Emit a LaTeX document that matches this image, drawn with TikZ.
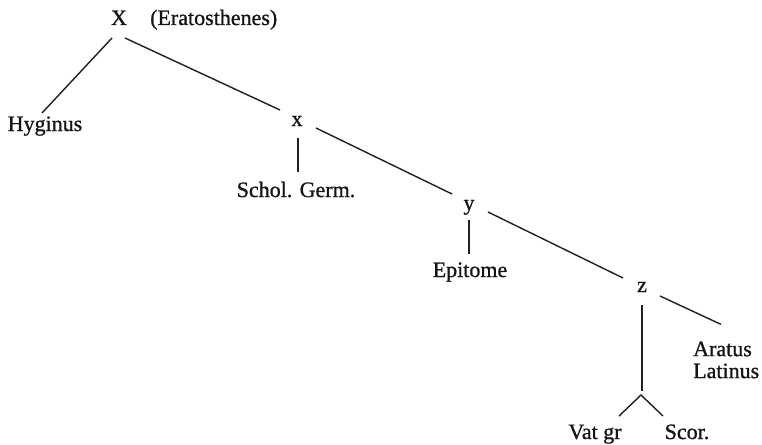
\documentclass[tikz,border=0pt]{standalone}
\usepackage{fontspec}
\setmainfont[FakeBold=0.9]{Liberation Serif}
\begin{document}
\begin{tikzpicture}[x=1pt,y=-1pt,
  lbl/.style={inner sep=0pt, anchor=base, text=black!92, font=\fontsize{22}{22}\selectfont},
  edge/.style={line width=1.4pt, black!88}]
\useasboundingbox (0,0) rectangle (762,444);
% nodes
\node[lbl] (X) at (119,25) {X};
\node[lbl, anchor=base west] (Era) at (150,25) {(Eratosthenes)};
\node[lbl] (Hyg) at (45,131) {Hyginus};
\node[lbl] (x) at (297,126) {x};
\node[lbl] (SG) at (296,197) {Schol. Germ.};
\node[lbl] (y) at (469,210) {y};
\node[lbl] (Ep) at (470,277) {Epitome};
\node[lbl] (z) at (642,292) {z};
\node[lbl, anchor=north west, align=left] (Ar) at (693,341.4) {Aratus\\Latinus};
\node[lbl] (Vat) at (595,439) {Vat gr};
\node[lbl] (Scor) at (687,439) {Scor.};
\coordinate (fork) at (641,395);
% connectors
\draw[edge] ([shift={(-7,13)}]X.base) -- ([shift={(-3,-18)}]Hyg.base);
\draw[edge] ([shift={(6,13)}]X.base) -- ([shift={(-17,-16)}]x.base);
\draw[edge] ([shift={(19,2)}]x.base) -- ([shift={(-17,-16)}]y.base);
\draw[edge] ([shift={(1,12)}]x.base) -- ([shift={(2,-25)}]SG.base);
\draw[edge] ([shift={(19,2)}]y.base) -- ([shift={(-19,-14)}]z.base);
\draw[edge] ([shift={(0,10)}]y.base) -- ([shift={(-1,-23)}]Ep.base);
\draw[edge] ([shift={(18,4)}]z.base) -- ([shift={(28,-17)}]Ar.north west);
\draw[edge] ([shift={(0,13)}]z.base) -- ([shift={(1,-4)}]fork);
\draw[edge] ([shift={(24,-23)}]Vat.base) -- (fork) -- ([shift={(-24,-23)}]Scor.base);
\end{tikzpicture}
\end{document}
